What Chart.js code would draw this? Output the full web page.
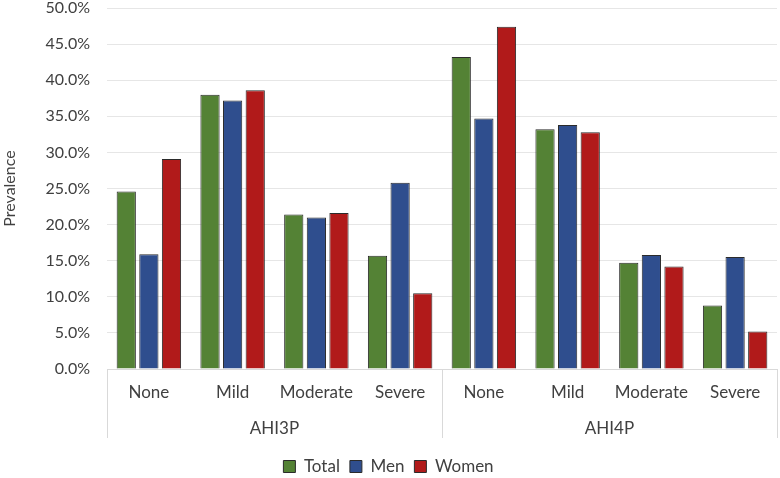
<!DOCTYPE html>
<html>
<head>
<meta charset="utf-8">
<script src="https://cdn.jsdelivr.net/npm/chart.js@4"></script>
<style>
  html, body { margin: 0; padding: 0; background: #fff; }
  #wrap { width: 780px; height: 478px; position: relative; }
</style>
</head>
<body>
<div id="wrap"><canvas id="prevChart"></canvas></div>
<script>
// Data
const categories = ['None', 'Mild', 'Moderate', 'Severe', 'None', 'Mild', 'Moderate', 'Severe'];
const groups = ['AHI3P', 'AHI4P'];
const total = [24.6, 38.0, 21.4, 15.7, 43.2, 33.2, 14.7, 8.8];
const men = [15.9, 37.2, 21.0, 25.8, 34.7, 33.8, 15.8, 15.5];
const women = [29.1, 38.6, 21.6, 10.5, 47.4, 32.8, 14.2, 5.2];
const yMax = 50;
const yStep = 5;

const textColor = '#404040';
const fontFamily = 'Lato, "Open Sans", sans-serif';

// Draw the vertical separators of the grouped category axis
const groupLines = {
  id: 'groupLines',
  afterDraw(chart) {
    const xs = chart.scales.x;
    const g = chart.scales.group;
    const ctx = chart.ctx;
    const half = categories.length / 2;
    const mid = (xs.getPixelForValue(half - 1) + xs.getPixelForValue(half)) / 2;
    ctx.save();
    ctx.strokeStyle = '#d9d9d9';
    ctx.lineWidth = 1;
    [xs.left, mid, xs.right].forEach(x => {
      const px = Math.round(x) + 0.5;
      ctx.beginPath();
      ctx.moveTo(px, chart.chartArea.bottom);
      ctx.lineTo(px, g.top + 31);
      ctx.stroke();
    });
    ctx.restore();
  }
};

const ctx = document.getElementById('prevChart').getContext('2d');
new Chart(ctx, {
  type: 'bar',
  data: {
    labels: categories,
    datasets: [
      { label: 'Total', data: total, backgroundColor: '#548235', borderColor: '#2b2b2b', borderWidth: 1 },
      { label: 'Men', data: men, backgroundColor: '#2f4e8e', borderColor: '#2b2b2b', borderWidth: 1 },
      { label: 'Women', data: women, backgroundColor: '#b11a1a', borderColor: '#2b2b2b', borderWidth: 1 }
    ]
  },
  options: {
    responsive: true,
    maintainAspectRatio: false,
    animation: false,
    categoryPercentage: 0.81,
    barPercentage: 0.85,
    layout: { padding: { top: 8, right: 3, left: 0, bottom: -7 } },
    plugins: {
      tooltip: { enabled: false },
      legend: {
        position: 'bottom',
        labels: {
          color: textColor,
          font: { family: fontFamily, size: 17 },
          boxWidth: 12,
          boxHeight: 12,
          padding: 10
        }
      }
    },
    scales: {
      y: {
        min: 0,
        max: yMax,
        ticks: {
          stepSize: yStep,
          color: textColor,
          font: { family: fontFamily, size: 16, lineHeight: 1 },
          padding: 0,
          callback: v => v.toFixed(1) + '%'
        },
        grid: { color: '#e6e6e6', drawTicks: true, tickLength: 17, tickColor: 'rgba(0,0,0,0)' },
        border: { display: false },
        title: {
          display: true,
          text: 'Prevalence',
          color: textColor,
          font: { family: fontFamily, size: 16 },
          padding: 0
        },
        afterFit: s => { s.width = 107; }
      },
      x: {
        ticks: {
          color: textColor,
          font: { family: fontFamily, size: 17 },
          padding: 13,
          maxRotation: 0
        },
        grid: { display: false, drawTicks: false },
        border: { display: true, color: '#d9d9d9' },
        afterFit: s => { s.height = 38; }
      },
      group: {
        type: 'category',
        labels: groups,
        position: 'bottom',
        offset: true,
        ticks: {
          color: textColor,
          font: { family: fontFamily, size: 17 },
          padding: 11,
          maxRotation: 0
        },
        grid: { display: false, drawTicks: false },
        border: { display: false },
        afterFit: s => { s.height = 41; }
      }
    }
  },
  plugins: [groupLines]
});
</script>
</body>
</html>
